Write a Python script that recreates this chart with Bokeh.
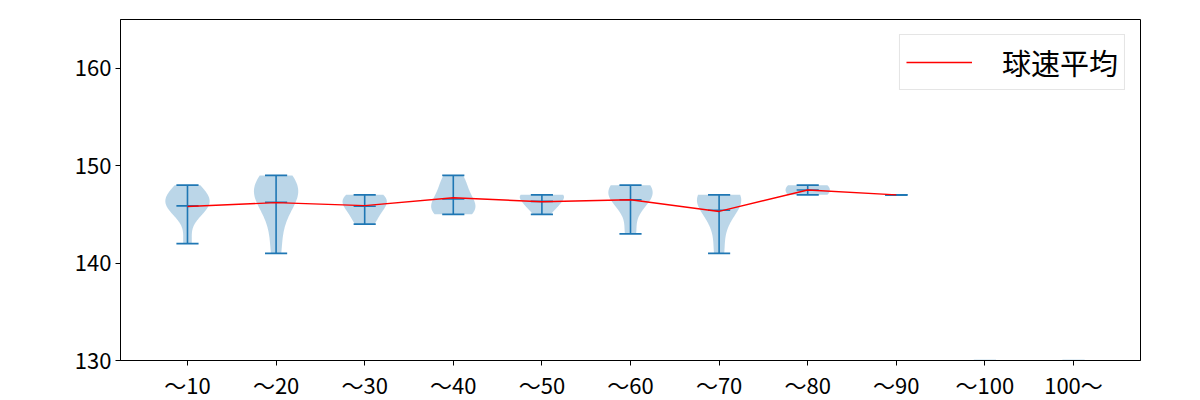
import numpy as np
from bokeh.plotting import figure
from bokeh.models import Range1d, FixedTicker, Legend, LegendItem
from bokeh.embed import file_html
from bokeh.resources import INLINE

# ---- data ----
categories = ["～10", "～20", "～30", "～40", "～50", "～60", "～70", "～80", "～90", "～100", "100～"]
samples = [
    [142, 145, 146, 146, 146, 147, 147, 148],
    [141, 144, 146, 147, 147, 148, 148, 149],
    [144, 145, 146, 146, 147, 147],
    [145, 145, 146, 146, 147, 148, 149],
    [145, 146, 146, 147, 147, 147],
    [143, 146, 147, 147, 148, 148],
    [141, 144, 146, 146, 147, 147, 147],
    [147, 148],
    [147],
    [],
    [],
]
mean_speed = [145.8, 146.2, 145.9, 146.7, 146.3, 146.5, 145.3, 147.5, 147.0]
legend_label = "球速平均"
y_ticks = [130, 140, 150, 160]

FONT = "Noto Sans CJK JP"
BLUE = "#1f77b4"

positions = list(range(1, len(categories) + 1))

p = figure(width=1200, height=400, output_backend="svg", toolbar_location=None,
           x_range=Range1d(0.244, 11.756), y_range=Range1d(130, 165),
           min_border_left=120, min_border_right=60, min_border_top=19, min_border_bottom=40)
p.frame_width = 1020
p.frame_height = 341
p.background_fill_color = "white"
p.border_fill_color = "white"
p.outline_line_color = "black"
p.outline_line_width = 1
p.xgrid.visible = False
p.ygrid.visible = False

# violins (Gaussian KDE, Scott bandwidth, like matplotlib's violinplot)
vx, vy = [], []
for pos, s in zip(positions, samples):
    if len(s) < 2:
        continue
    d = np.asarray(s, dtype=float)
    bw = np.std(d, ddof=1) * len(d) ** (-1 / 5)
    ys = np.linspace(d.min(), d.max(), 100)
    dens = np.exp(-0.5 * ((ys[:, None] - d[None, :]) / bw) ** 2).sum(axis=1)
    w = dens / dens.max() * 0.25
    vx.append(list(np.concatenate([pos - w, (pos + w)[::-1]])))
    vy.append(list(np.concatenate([ys, ys[::-1]])))
p.patches(vx, vy, fill_color=BLUE, fill_alpha=0.3, line_color=None)

# empty categories: faint marks at the axis floor
for pos, s in zip(positions, samples):
    if len(s) == 0:
        p.segment(x0=pos - 0.125, x1=pos + 0.125, y0=p.y_range.start, y1=p.y_range.start,
                  line_color=BLUE, line_alpha=0.25, line_width=2)

# whiskers, caps, mean bars
vpos, vmin, vmax, vmean = [], [], [], []
for pos, s in zip(positions, samples):
    if len(s) == 0:
        continue
    vpos.append(pos); vmin.append(min(s)); vmax.append(max(s)); vmean.append(float(np.mean(s)))
vpos = np.array(vpos, dtype=float)
p.segment(x0=vpos, x1=vpos, y0=vmin, y1=vmax, line_color=BLUE, line_width=1.6)
for arr in (vmin, vmax, vmean):
    p.segment(x0=vpos - 0.125, x1=vpos + 0.125, y0=arr, y1=arr, line_color=BLUE, line_width=1.6)

# mean line
r_mean = p.line(positions[:len(mean_speed)], mean_speed, line_color="red", line_width=1.4)

legend = Legend(items=[LegendItem(label=legend_label, renderers=[r_mean])], location="top_right")
legend.label_text_font = FONT
legend.label_text_font_size = "29px"
legend.label_text_color = "black"
legend.label_text_line_height = 0.9
legend.glyph_width = 66
legend.glyph_height = 20
legend.label_height = 20
legend.label_standoff = 30
legend.padding = 6
legend.margin = 15
legend.border_line_color = "#cccccc"
legend.border_line_width = 1
legend.background_fill_alpha = 0.8
p.add_layout(legend)

# axes
p.xaxis.ticker = FixedTicker(ticks=positions)
p.xaxis.major_label_overrides = {pos: lab for pos, lab in zip(positions, categories)}
p.yaxis.ticker = FixedTicker(ticks=y_ticks)
for ax in (p.xaxis, p.yaxis):
    ax.axis_line_color = "black"
    ax.major_tick_line_color = "black"
    ax.major_tick_in = 0
    ax.major_tick_out = 5
    ax.minor_tick_line_color = None
    ax.major_label_text_font = FONT
    ax.major_label_text_font_size = "22px"
    ax.major_label_text_color = "black"
p.xaxis.major_label_standoff = 2
p.yaxis.major_label_standoff = 4

with open("out.html", "w") as f:
    f.write(file_html(p, INLINE))
